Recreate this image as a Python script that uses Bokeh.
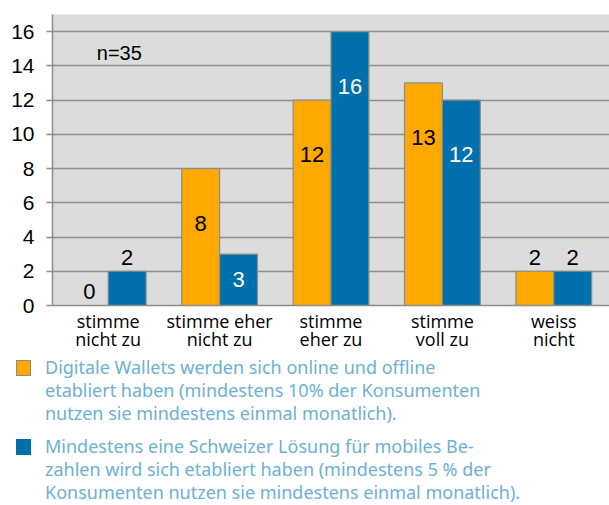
from bokeh.plotting import figure
from bokeh.layouts import column
from bokeh.models import ColumnDataSource, FixedTicker, Range1d, Div
from bokeh.core.properties import value
from bokeh.embed import file_html
from bokeh.resources import INLINE

categories = ["stimme\nnicht zu", "stimme eher\nnicht zu", "stimme\neher zu", "stimme\nvoll zu", "weiss\nnicht"]
wallets = [0, 8, 12, 13, 2]
swiss = [2, 3, 16, 12, 2]
y_ticks = [0, 2, 4, 6, 8, 10, 12, 14, 16]
note = "n=35"
legend_wallets = ["Digitale Wallets werden sich online und offline",
                  "etabliert haben (mindestens 10% der Konsumenten",
                  "nutzen sie mindestens einmal monatlich)."]
legend_swiss = ["Mindestens eine Schweizer Lösung für  mobiles Be-",
                "zahlen wird sich etabliert haben (mindestens 5 % der",
                "Konsumenten nutzen sie mindestens einmal monatlich)."]

ORANGE = "#FFA800"
BLUE = "#0070AD"
OUTLINE = "#8C8C8C"
LEG_COLOR = "#6BB0D6"
BW = 0.34

n = len(categories)
centers = [i + 0.5 for i in range(n)]

p = figure(frame_width=557, frame_height=291, min_border_left=52, min_border_right=0,
           min_border_top=14, min_border_bottom=45,
           x_range=Range1d(0, n), y_range=Range1d(0, 17),
           output_backend="svg", toolbar_location=None)
p.background_fill_color = "#DCDCDC"
p.border_fill_color = "white"
p.outline_line_color = None

src_w = ColumnDataSource(dict(x=[c - BW / 2 for c in centers], top=wallets))
src_s = ColumnDataSource(dict(x=[c + BW / 2 for c in centers], top=swiss))
p.vbar(x="x", top="top", width=BW, source=src_w, fill_color=ORANGE, line_color=OUTLINE, line_width=1.2)
p.vbar(x="x", top="top", width=BW, source=src_s, fill_color=BLUE, line_color=OUTLINE, line_width=1.2)


def label_pos(v):
    if v >= 5:
        return v - 3.2, True
    if v >= 3:
        return v / 2, True
    return v + 0.8, False


for xs, vals, inside_color in ((src_w.data["x"], wallets, "black"), (src_s.data["x"], swiss, "white")):
    lx, ly, lt, lc = [], [], [], []
    for x, v in zip(xs, vals):
        yy, inside = label_pos(v)
        lx.append(x); ly.append(yy); lt.append(str(v))
        lc.append(inside_color if inside else "black")
    p.text(x=lx, y=ly, text=lt, text_color=lc, text_align="center", text_baseline="middle",
           text_font=value("Liberation Sans"), text_font_size="22px")

p.text(x=[centers[0] + 0.1], y=[14.77], text=[note], text_align="center", text_baseline="middle",
       text_font=value("Liberation Sans"), text_font_size="20px", text_color="black")

p.xgrid.grid_line_color = None
p.ygrid.grid_line_color = OUTLINE
p.ygrid.grid_line_width = 1.5
p.ygrid.ticker = FixedTicker(ticks=y_ticks)

p.yaxis.ticker = FixedTicker(ticks=y_ticks)
p.yaxis.axis_line_color = OUTLINE
p.yaxis.axis_line_width = 1.5
p.yaxis.major_tick_line_color = OUTLINE
p.yaxis.major_tick_line_width = 1.5
p.yaxis.major_tick_out = 6
p.yaxis.major_tick_in = 0
p.yaxis.minor_tick_line_color = None
p.yaxis.major_label_standoff = 12
p.yaxis.major_label_text_font = "Liberation Sans"
p.yaxis.major_label_text_font_size = "21px"
p.yaxis.major_label_text_color = "black"

p.xaxis.ticker = FixedTicker(ticks=centers)
p.xaxis.major_label_overrides = {c: lab for c, lab in zip(centers, categories)}
p.xaxis.axis_line_color = OUTLINE
p.xaxis.axis_line_width = 1.5
p.xaxis.major_tick_line_color = None
p.xaxis.major_tick_out = 0
p.xaxis.major_tick_in = 0
p.xaxis.minor_tick_line_color = None
p.xaxis.minor_tick_out = 0
p.xaxis.major_label_standoff = 3
p.xaxis.major_label_text_font = "Open Sans"
p.xaxis.major_label_text_font_size = "18px"
p.xaxis.major_label_text_color = "black"
p.xaxis.major_label_text_line_height = 0.75


def legend_item(top, color, border, lines):
    sq = (f'<div style="position:absolute;left:16px;top:{top + 4}px;width:15px;height:16px;'
          f'background:{color};border:1px solid {border};"></div>')
    txt = (f'<div style="position:absolute;left:45px;top:{top}px;white-space:nowrap;">'
           + "<br>".join(lines) + '</div>')
    return sq + txt


html = ('<div style="position:relative;width:609px;height:150px;font-family:\'Noto Sans\';'
        f'font-size:18px;line-height:23px;color:{LEG_COLOR};">'
        + legend_item(3, ORANGE, OUTLINE, legend_wallets)
        + legend_item(82, BLUE, BLUE, legend_swiss)
        + '</div>')
lg = Div(text=html, width=609, height=150, margin=0)

layout = column(p, lg, spacing=0)
open("out.html", "w").write(file_html(layout, INLINE))
